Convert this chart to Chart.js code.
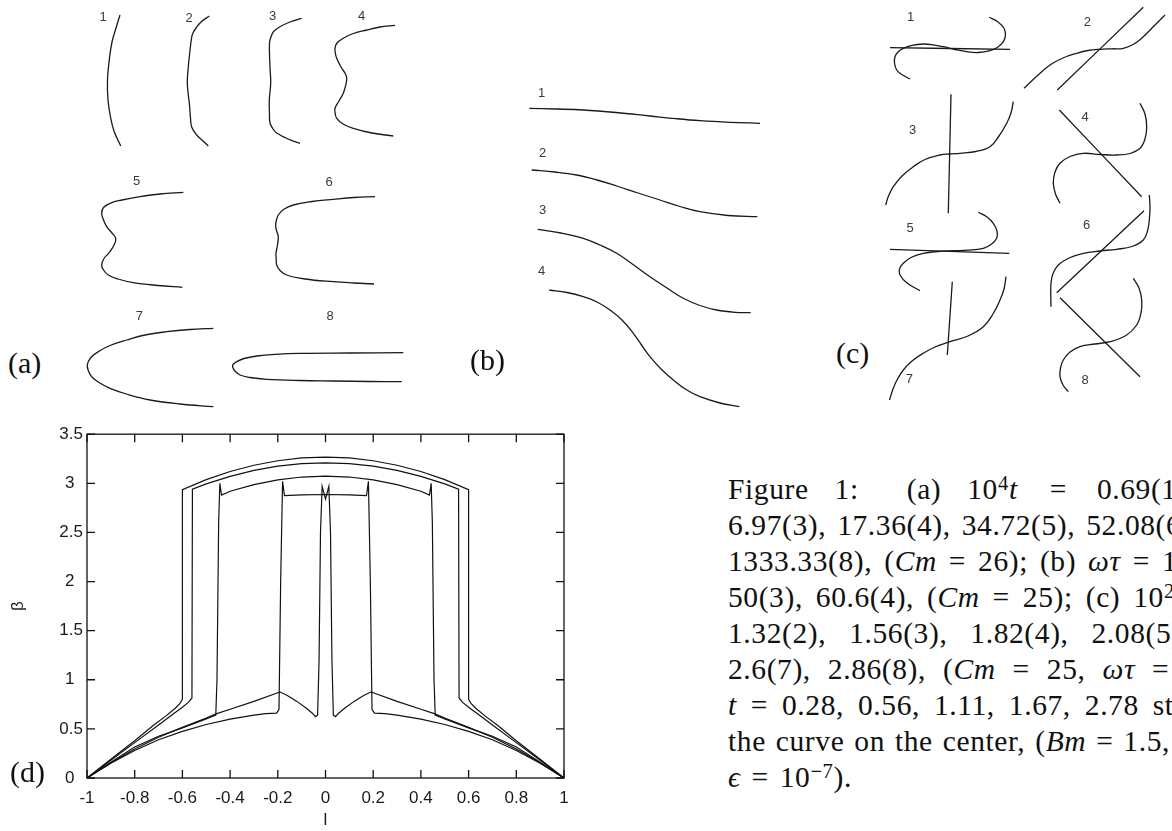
<!DOCTYPE html>
<html>
<head>
<meta charset="utf-8">
<script src="https://cdn.jsdelivr.net/npm/chart.js@4.4.1/dist/chart.umd.min.js"></script>
<style>
  html, body { margin: 0; padding: 0; background: #fff; }
  body { width: 1172px; height: 831px; position: relative; overflow: hidden; }
  canvas { position: absolute; }
  .tag { position: absolute; font-family: "Liberation Serif", serif; font-size: 30px; line-height: 30px; color: #111; }
  #caption { position: absolute; left: 728px; top: 471px; font-family: "Liberation Serif", serif;
             font-size: 29.5px; letter-spacing: 0.6px; line-height: 36px; color: #111; white-space: nowrap; }
  #caption sup { font-size: 0.7em; line-height: 0; vertical-align: 0.45em; }
</style>
</head>
<body>
<canvas id="panelA" width="360" height="420" style="left:60px; top:0px"></canvas>
<canvas id="panelB" width="280" height="360" style="left:500px; top:60px"></canvas>
<canvas id="panelC" width="302" height="420" style="left:870px; top:0px"></canvas>
<canvas id="panelD" width="600" height="411" style="left:0px; top:420px"></canvas>

<div class="tag" style="left:8px; top:348px">(a)</div>
<div class="tag" style="left:470px; top:345px">(b)</div>
<div class="tag" style="left:836px; top:338px">(c)</div>
<div class="tag" style="left:10px; top:757px">(d)</div>

<div id="caption">
  <div style="word-spacing:18px">Figure 1:<span style="margin-left:22px"></span> (a) 10<sup>4</sup><i>t</i> <span style="margin-left:6px"></span>= <span style="margin-left:4px"></span>0.69(1), 3.47(2),</div>
  <div style="word-spacing:3px">6.97(3), 17.36(4), 34.72(5), 52.08(6), 69.44(7),</div>
  <div style="word-spacing:4px">1333.33(8), (<i>Cm</i> = 26); (b) <i>ωτ</i> = 10(1), 25(2),</div>
  <div style="word-spacing:5px">50(3), 60.6(4), (<i>Cm</i> = 25); (c) 10<sup>2</sup><i>t</i> = 1.04(1),</div>
  <div style="word-spacing:15px">1.32(2), 1.56(3), 1.82(4), 2.08(5), 2.34(6),</div>
  <div style="word-spacing:9px">2.6(7), 2.86(8), (<i>Cm</i> = 25, <i>ωτ</i> = 50); (d)</div>
  <div style="word-spacing:6px"><i>t</i> = 0.28, 0.56, 1.11, 1.67, 2.78 steps from</div>
  <div style="word-spacing:2px">the curve on the center, (<i>Bm</i> = 1.5,</div>
  <div style="word-spacing:3px"><i>ϵ</i> = 10<sup>−7</sup>).</div>
</div>

<script>
// ---------- panel (a): interface shapes, 10^4 t = 0.69 ... 1333.33
const aShapes = [
  [[120,15],[116,28],[112,42],[109.5,58],[107.5,80],[108,100],[110.5,117],[114,131],[120.7,146]],
  [[209.3,16],[201,22],[196.7,27],[193,33],[191.7,37],[189.5,55],[188.3,67],[187.3,82],[188.3,95],[189.3,103],[190.5,118],[191.7,127],[196.7,135],[202,140],[208.3,146]],
  [[301.7,18.3],[290,22],[280,26.7],[274,31],[271.7,35],[269.5,43],[270,67],[270.7,83],[269.3,100],[269.5,115],[270,123],[273,129],[276.7,133],[288,139],[300,143.3]],
  [[395,25.3],[380,27],[366.7,30],[352,34],[343.3,38.3],[337,43],[335,48.3],[335.5,54],[336.7,58.3],[341,67],[345.5,74],[346.7,78.3],[346,84],[343.3,93.3],[339,101],[335,108.3],[335.3,114],[336.7,118.3],[343,124],[353.3,128.3],[372,133],[393.3,136]],
  [[183.3,192.3],[160,194],[140,196.7],[122,200],[110,203.3],[103.5,207.5],[101.7,213.3],[103.5,220],[106.7,226.7],[112,233],[115.7,238.3],[114.5,244],[110,251.7],[104,258.5],[101.7,265],[103.5,270],[108.3,275],[118,279],[133.3,282.7],[158,285.5],[182.3,287.3]],
  [[375,196.7],[354,197.5],[333.3,199.3],[312,201.5],[293.3,205],[283.5,209.5],[278.3,215],[276.2,221],[275.7,226.7],[277,232],[278.3,236.7],[277.5,245],[276,253.3],[276.2,259],[276.7,265],[280,270.5],[286.7,275],[305,279],[333.3,281.7],[354,283],[374,284]],
  [[213.3,328.3],[190,329.5],[166.7,331.7],[145,335],[126.7,340],[110,345.5],[98.3,351.7],[90.5,358],[87.3,365],[88.5,371],[91.7,376.7],[99,382.5],[110,388.3],[128,394.5],[150,400],[180,404],[213.3,406.7]],
  [[403.3,352.7],[350,353],[300,353.3],[275,354.3],[256.7,356],[244,358.5],[236.7,361.7],[233,364.5],[232.7,367.3],[235,371],[240,375],[250,377.5],[266.7,379.3],[300,380.5],[333.3,381],[370,381.5],[401.7,381.7]]
]
const aTags = ['1', '2', '3', '4', '5', '6', '7', '8']
const aTagAt = [[103,17],[189,18],[272.7,16.7],[361.7,16],[136.7,181],[329,182],[139.3,316.7],[330,316.7]]

// ---------- panel (b): omega tau = 10 ... 60.6
const bShapes = [
  [[529.3,108.3],[556,109],[583.3,110],[616,112.5],[650,116],[676,118.7],[700,120.7],[730,122.3],[760,123.3]],
  [[531.7,170],[555,172],[576.7,175],[597,180],[616.7,186],[638,193],[660,200],[680,206.5],[700,211.7],[728,215.5],[757.3,216.7]],
  [[537.7,229.3],[561,233],[583.3,238.3],[600,245],[616.7,253.3],[633,264.5],[650,276.7],[667,288],[683.3,298.3],[700,305.5],[716.7,310],[735,312.3],[750.7,312.7]],
  [[549.3,290],[567,292.5],[583.3,296.7],[597,302],[610,310],[622,320],[633.3,333.3],[641.5,345],[650,356.7],[661,369],[673.3,380],[686,389.5],[700,396.7],[720,403],[739.3,406.7]]
]
const bTags = ['1', '2', '3', '4']
const bTagAt = [[541.7,93.3],[542.7,153.3],[542.7,210.7],[541.7,271.7]]

// ---------- panel (c): 10^2 t = 1.04 ... 2.86, field line + interface
const cShapes = [
  [[890,47.7],[1010,49.3]],
  [[910,79],[901,74],[896.7,70],[894.5,63],[895,56.7],[898,52],[903.3,48.3],[912,45.3],[923.3,44],[933,44.8],[943.3,46.7],[955,49.5],[966.7,51.7],[978,52.5],[990,50.7],[998,47],[1003.3,41.7],[1005.5,35],[1004,28.3],[998,22],[989.3,17.3]],
  [[1057.3,90],[1143.3,7.3]],
  [[1024,88.3],[1037,76],[1050,65],[1063,58],[1076.7,53.3],[1088,50.5],[1100,49.3],[1112,48.8],[1123.3,48.3],[1134,44],[1143.3,36.7],[1154,26],[1165,15]],
  [[951,94.3],[948.3,213.3]],
  [[1013.3,101.7],[1011,113],[1006.7,123.3],[999,136],[990,146.7],[976,151.5],[960,153.3],[950,154],[940,155],[925,159.5],[913.3,166.7],[902,176],[893.3,186.7],[888.5,196],[885.7,205]],
  [[1059.3,110],[1141.7,196.7]],
  [[1140,103.3],[1145,114],[1146.7,126.7],[1145,139],[1140,148.3],[1130,153.5],[1116.7,155],[1100,154.5],[1083.3,153.3],[1070,156.5],[1060,163.3],[1055,172],[1053.3,183.3],[1055.5,194],[1060,203.3]],
  [[890,249.3],[1009.3,253.3]],
  [[978.3,212.3],[987,217],[993.3,223.3],[997,231],[996.7,238.3],[991,244.5],[983.3,248.3],[968,250.2],[953.3,250.7],[938,251.5],[923.3,253.3],[911,257.5],[903.3,263.3],[899.5,269],[900,275],[907,283],[920,290.7]],
  [[1056.7,292.7],[1144,210.7]],
  [[1149.3,195],[1150,207],[1149.3,220],[1147.5,231],[1143.3,240],[1132,246.5],[1116.7,249.3],[1100,251],[1083.3,253.3],[1069,258],[1058.3,265],[1053,273.5],[1051,283.3],[1050.8,295],[1051,306.7]],
  [[952.3,281.7],[947.3,355]],
  [[1006,276.7],[1004,289],[1000,300],[993,314],[983.3,326.7],[968,336],[950,341.7],[935,347],[923.3,353.3],[912,361],[903.3,370],[897.5,379],[893.3,388.3],[889.5,400]],
  [[1060,297.7],[1140,376.7]],
  [[1133.3,278.3],[1139,288],[1141.7,300],[1141,313],[1136.7,325],[1126,335.5],[1110,341.7],[1095,344],[1080,346.7],[1070,352],[1063.3,360],[1060.5,368],[1060,376.7],[1063,385],[1068.3,391.7]]
]
const cTags = ['1', '2', '3', '4', '5', '6', '7', '8']
const cTagAt = [[910.7,17.3],[1087.3,22.7],[912.7,130.7],[1085,117.3],[910,228.3],[1086.7,225],[909.3,379.3],[1085,380]]

// ---------- panel (d): beta vs l, t = 0.28 ... 2.78
const xTicks = [-1, -0.8, -0.6, -0.4, -0.2, 0, 0.2, 0.4, 0.6, 0.8, 1]
const yTicks = [0, 0.5, 1, 1.5, 2, 2.5, 3, 3.5]
const stepTimes = ['0.28', '0.56', '1.11', '1.67', '2.78']
const betaT028 = [[-1,0],[-0.9,0.155],[-0.8,0.295],[-0.7,0.415],[-0.6,0.515],[-0.5,0.61],[-0.456,0.655],[-0.4,0.7],[-0.3,0.78],[-0.2,0.868],[-0.19,0.875],[-0.16,0.84],[-0.12,0.78],[-0.08,0.71],[-0.055,0.66],[-0.042,0.625],[-0.033,0.64],[-0.027,1.2],[-0.021,2.5],[-0.014,2.97],[0,2.84],[0.014,2.97],[0.021,2.5],[0.027,1.2],[0.033,0.64],[0.042,0.625],[0.055,0.66],[0.08,0.71],[0.12,0.78],[0.16,0.84],[0.19,0.875],[0.2,0.868],[0.3,0.78],[0.4,0.7],[0.456,0.655],[0.5,0.61],[0.6,0.515],[0.7,0.415],[0.8,0.295],[0.9,0.155],[1,0]]
const betaT056 = [[-1,0],[-0.9,0.15],[-0.8,0.28],[-0.7,0.39],[-0.6,0.475],[-0.5,0.545],[-0.4,0.6],[-0.3,0.64],[-0.25,0.655],[-0.205,0.66],[-0.195,0.7],[-0.188,2.0],[-0.18,3.02],[-0.172,2.875],[-0.1,2.883],[0,2.886],[0.1,2.883],[0.172,2.875],[0.18,3.02],[0.188,2.0],[0.195,0.7],[0.205,0.66],[0.25,0.655],[0.3,0.64],[0.4,0.6],[0.5,0.545],[0.6,0.475],[0.7,0.39],[0.8,0.28],[0.9,0.15],[1,0]]
const betaT111 = [[-1,0],[-0.9,0.16],[-0.8,0.315],[-0.7,0.425],[-0.6,0.51],[-0.5,0.6],[-0.46,0.64],[-0.455,1.0],[-0.448,2.6],[-0.443,3.0],[-0.436,2.88],[-0.4,2.919],[-0.3,2.987],[-0.2,3.035],[-0.1,3.064],[0,3.074],[0.1,3.064],[0.2,3.035],[0.3,2.987],[0.4,2.919],[0.436,2.88],[0.443,3.0],[0.448,2.6],[0.455,1.0],[0.46,0.64],[0.5,0.6],[0.6,0.51],[0.7,0.425],[0.8,0.315],[0.9,0.16],[1,0]]
const betaT167 = [[-1,0],[-0.9,0.18],[-0.8,0.36],[-0.7,0.54],[-0.64,0.65],[-0.6,0.72],[-0.575,0.77],[-0.56,0.815],[-0.558,2.94],[-0.5,2.994],[-0.4,3.071],[-0.3,3.132],[-0.2,3.175],[-0.1,3.2],[0,3.209],[0.1,3.2],[0.2,3.175],[0.3,3.132],[0.4,3.071],[0.5,2.994],[0.558,2.94],[0.56,0.815],[0.575,0.77],[0.6,0.72],[0.64,0.65],[0.7,0.54],[0.8,0.36],[0.9,0.18],[1,0]]
const betaT278 = [[-1,0],[-0.9,0.19],[-0.8,0.38],[-0.72,0.54],[-0.67,0.63],[-0.63,0.71],[-0.61,0.76],[-0.6,0.8],[-0.6,2.936],[-0.5,3.037],[-0.4,3.12],[-0.3,3.184],[-0.2,3.23],[-0.1,3.258],[0,3.267],[0.1,3.258],[0.2,3.23],[0.3,3.184],[0.4,3.12],[0.5,3.037],[0.6,2.936],[0.6,0.8],[0.61,0.76],[0.63,0.71],[0.67,0.63],[0.72,0.54],[0.8,0.38],[0.9,0.19],[1,0]]

const toXY = s => s.map(p => ({x: p[0], y: p[1]}))

function tagPlugin (tags, at) {
  return {
    id: 'tags',
    afterDatasetsDraw (chart) {
      const {ctx, scales: {x, y}} = chart
      ctx.save()
      ctx.font = '13px "Liberation Sans", Arial, sans-serif'
      ctx.fillStyle = '#3a3a3a'
      ctx.textAlign = 'center'
      ctx.textBaseline = 'middle'
      tags.forEach((t, i) => ctx.fillText(t, x.getPixelForValue(at[i][0]), y.getPixelForValue(at[i][1])))
      ctx.restore()
    }
  }
}

function sketch (id, shapes, tags, at, xr, yr) {
  return new Chart(document.getElementById(id), {
    type: 'line',
    data: {
      datasets: shapes.map(s => ({
        data: toXY(s),
        borderColor: '#1a1a1a',
        borderWidth: 1.3,
        pointRadius: 0,
        tension: 0.4,
        fill: false
      }))
    },
    options: {
      responsive: false,
      animation: false,
      events: [],
      layout: {padding: 0},
      scales: {
        x: {type: 'linear', display: false, min: xr[0], max: xr[1]},
        y: {type: 'linear', display: false, min: yr[0], max: yr[1], reverse: true}
      },
      plugins: {legend: {display: false}, tooltip: {enabled: false}}
    },
    plugins: [tagPlugin(tags, at)]
  })
}

sketch('panelA', aShapes, aTags, aTagAt, [60, 420], [0, 420])
sketch('panelB', bShapes, bTags, bTagAt, [500, 780], [60, 420])
sketch('panelC', cShapes, cTags, cTagAt, [870, 1172], [0, 420])

// gnuplot style frame with inward ticks on all four sides
const frameTicks = {
  id: 'frameTicks',
  afterDatasetsDraw (chart) {
    const {ctx, chartArea: a, scales: {x, y}} = chart
    ctx.save()
    ctx.strokeStyle = '#111'
    ctx.lineWidth = 1.3
    ctx.strokeRect(a.left, a.top, a.right - a.left, a.bottom - a.top)
    ctx.beginPath()
    x.ticks.forEach(t => {
      const px = x.getPixelForValue(t.value)
      ctx.moveTo(px, a.bottom); ctx.lineTo(px, a.bottom - 8)
      ctx.moveTo(px, a.top); ctx.lineTo(px, a.top + 8)
    })
    y.ticks.forEach(t => {
      const py = y.getPixelForValue(t.value)
      ctx.moveTo(a.left, py); ctx.lineTo(a.left + 8, py)
      ctx.moveTo(a.right, py); ctx.lineTo(a.right - 8, py)
    })
    ctx.stroke()
    ctx.restore()
  }
}

const tickFont = {family: '"Liberation Sans", Arial, sans-serif', size: 17}
const series = [betaT028, betaT056, betaT111, betaT167, betaT278]

new Chart(document.getElementById('panelD'), {
  type: 'line',
  data: {
    datasets: series.map((s, i) => ({
      label: 't = ' + stepTimes[i],
      data: toXY(s),
      borderColor: '#111',
      borderWidth: 1.2,
      pointRadius: 0,
      tension: 0,
      fill: false
    }))
  },
  options: {
    responsive: false,
    animation: false,
    events: [],
    layout: {padding: {top: 13, right: 36, left: 0, bottom: 0}},
    scales: {
      x: {
        type: 'linear',
        min: xTicks[0],
        max: xTicks[xTicks.length - 1],
        afterBuildTicks: s => { s.ticks = xTicks.map(v => ({value: v})) },
        afterFit: s => { s.height = 53 },
        grid: {display: false, drawTicks: false},
        border: {display: false},
        ticks: {
          padding: 10,
          color: '#1a1a1a',
          font: tickFont,
          maxRotation: 0,
          callback: v => String(Math.round(v * 10) / 10)
        },
        title: {display: true, text: 'l', color: '#1a1a1a', font: tickFont, padding: {top: 0, bottom: 0}}
      },
      y: {
        type: 'linear',
        min: yTicks[0],
        max: yTicks[yTicks.length - 1],
        afterBuildTicks: s => { s.ticks = yTicks.map(v => ({value: v})) },
        afterFit: s => { s.width = 87 },
        grid: {display: false, drawTicks: false},
        border: {display: false},
        ticks: {
          padding: 4,
          color: '#1a1a1a',
          font: tickFont,
          callback: v => Number.isInteger(v) ? v + '\u2002' : v.toFixed(1)
        },
        title: {display: true, text: 'β', color: '#1a1a1a', font: tickFont, padding: {top: 8, bottom: 0}}
      }
    },
    plugins: {legend: {display: false}, tooltip: {enabled: false}}
  },
  plugins: [frameTicks]
})
</script>
</body>
</html>
